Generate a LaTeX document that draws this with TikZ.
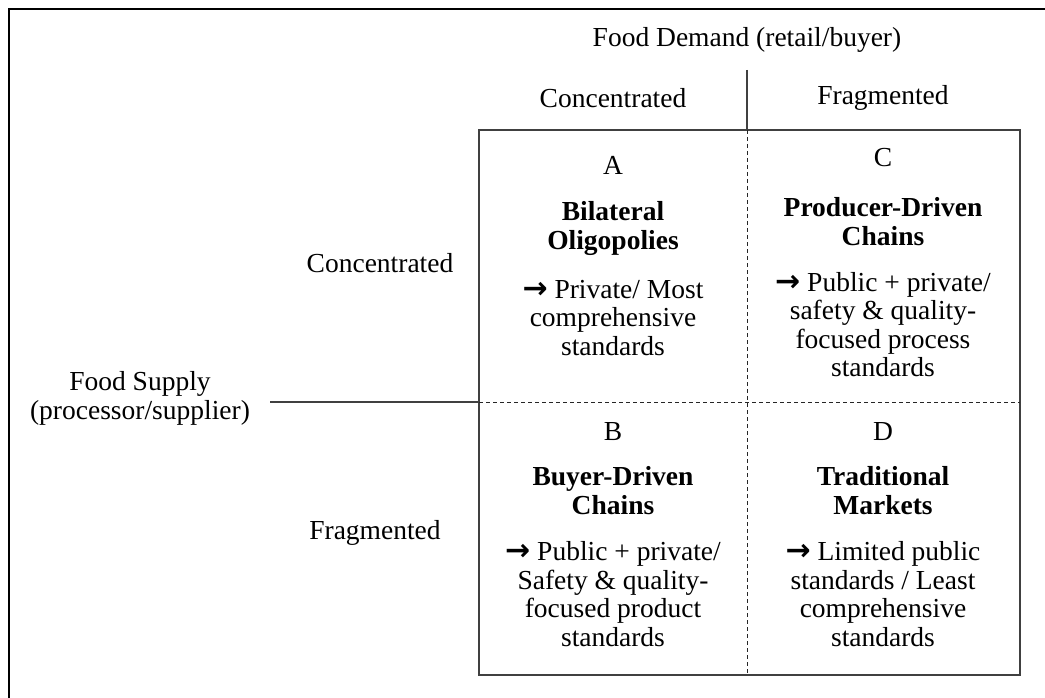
\documentclass[tikz,border=0pt]{standalone}
\usepackage{fontspec}
\setmainfont{Liberation Serif}
\newfontfamily\arrowfont{DejaVu Sans}
\newcommand{\ar}{{\arrowfont\bfseries\fontsize{30}{28}\selectfont →}}
\begin{document}
\begin{tikzpicture}[x=1pt,y=-1pt,
  txt/.style={align=center,inner sep=0pt,font=\fontsize{27.5}{28.5}\selectfont},
  bold/.style={txt,font=\fontsize{27.5}{29}\selectfont\bfseries},
  frame/.style={line width=1.6pt,black},
  boxline/.style={line width=1.2pt,black!75},
  divline/.style={line width=1pt,black!85,dash pattern=on 4pt off 3pt}]
\useasboundingbox (0,0) rectangle (1045,698);
% outer frame (cropped)
\coordinate (ftl) at (9,9);
\coordinate (ftr) at (1045,9);
\coordinate (fbl) at (9,698);
\draw[frame] (fbl) -- (ftl) -- (ftr);
% main box
\coordinate (tl) at (479,130);
\coordinate (br) at (1020,675);
\coordinate (mt) at (747,130);
\coordinate (mb) at (747,675);
\coordinate (ml) at (479,402);
\coordinate (mr) at (1020,402);
\coordinate (vtop) at (747,70);
\coordinate (hleft) at (270,402);
\draw[boxline] (tl) rectangle (br);
\draw[divline] (mt) -- (mb);
\draw[divline] (ml) -- (mr);
\draw[boxline] (vtop) -- (mt);
\draw[boxline] (hleft) -- (ml);
% headers
\node[txt] (demand) at (747,40) {Food Demand (retail/buyer)};
\node[txt] (dconc) at (613,98) {Concentrated};
\node[txt] (dfrag) at (883,98) {Fragmented};
\node[txt] (sconc) at (380,263) {Concentrated};
\node[txt] (sfrag) at (375,533) {Fragmented};
\node[txt] (supply) at (140,398.5) {Food Supply\\(processor/supplier)};
% quadrant A
\node[txt] (la) at (613,165) {A};
\node[bold] (ta) at (613,228.5) {Bilateral\\Oligopolies};
\node[txt] (da) at (613,318) {\ar{} Private/ Most\\comprehensive\\standards};
% quadrant C
\node[txt] (lc) at (883,158) {C};
\node[bold] (tc) at (883,221.5) {Producer-Driven\\Chains};
\node[txt] (dc) at (883,324.5) {\ar{} Public + private/\\safety \& quality-\\focused process\\standards};
% quadrant B
\node[txt] (lb) at (613,432) {B};
\node[bold] (tb) at (613,491) {Buyer-Driven\\Chains};
\node[txt] (db) at (613,594) {\ar{} Public + private/\\Safety \& quality-\\focused product\\standards};
% quadrant D
\node[txt] (ld) at (883,432) {D};
\node[bold] (td) at (883,491) {Traditional\\Markets};
\node[txt] (dd) at (883,594) {\ar{} Limited public\\standards / Least\\comprehensive\\standards};
\end{tikzpicture}
\end{document}
